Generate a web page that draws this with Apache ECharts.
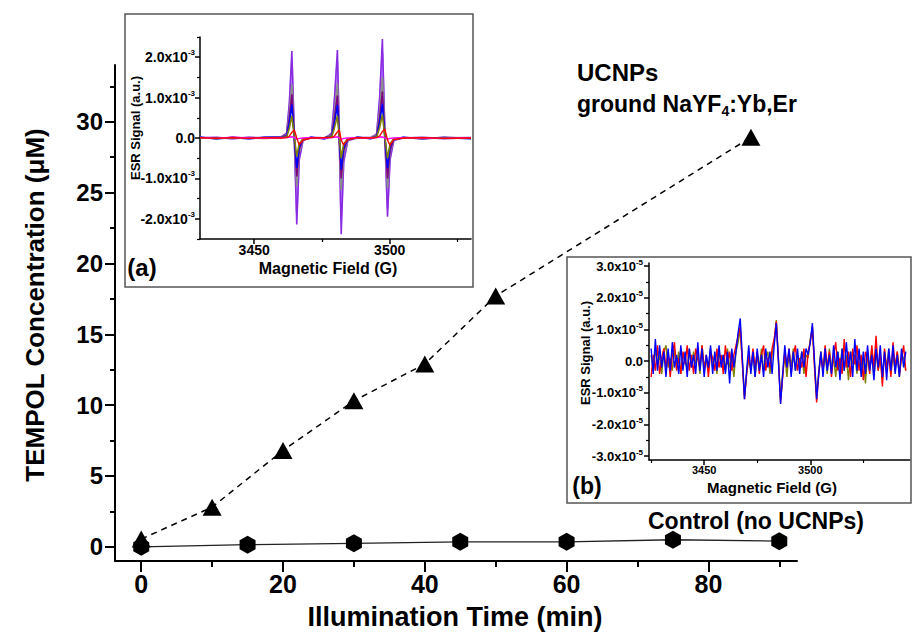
<!DOCTYPE html>
<html><head><meta charset="utf-8">
<script src="https://cdn.jsdelivr.net/npm/echarts@6/dist/echarts.min.js"></script>
<style>html,body{margin:0;padding:0;background:#fff}#c{width:912px;height:638px}</style>
</head><body><div id="c"></div>
<script>
// ---------- Main chart data ----------
const timeUCNP = [0, 10, 20, 30, 40, 50, 86];
const concUCNP = [0.55, 2.8, 6.8, 10.3, 12.9, 17.7, 28.9];
const timeControl = [0, 15, 30, 45, 60, 75, 90];
const concControl = [0.0, 0.15, 0.25, 0.35, 0.35, 0.5, 0.4];
const xTicksMain = [0, 20, 40, 60, 80];
const xMinorMain = [10, 30, 50, 70, 90];
const yTicksMain = [0, 5, 10, 15, 20, 25, 30];
const yMinorMain = [2.5, 7.5, 12.5, 17.5, 22.5, 27.5, 32.5];

// ---------- Inset (a): ESR spectra of UCNP samples (signal in 1e-3 a.u.) ----------
const fieldsA = [3430, 3436, 3442, 3448, 3454, 3460, 3462.0, 3463.0, 3463.9, 3464.8, 3465.7, 3466.6, 3468, 3471, 3476, 3478.6, 3479.6, 3480.7, 3481.4, 3482.1, 3483, 3484.5, 3488, 3493, 3495.2, 3496.3, 3497.3, 3498.2, 3499.2, 3500.1, 3501.5, 3505, 3512, 3520, 3530];
const sigLightViolet = [0.01,0.01,-0.02,0.02,0,0.02, 0.1,0.8,1.85,0.04,-1.85,-0.5,-0.05, 0.02,0, 0.1,0.85,1.9,0.04,-2.0,-0.55,-0.06, 0,0.02, 0.09,0.9,2.1,0.1,-1.75,-0.5,-0.05, 0,0.01,-0.01,0.01];
const sigViolet = [0.02,-0.02,0.02,-0.01,0.02,0.03, 0.12,0.9,2.15,0.05,-2.14,-0.55,-0.06, 0.01,-0.02, 0.12,0.95,2.18,0.05,-2.38,-0.6,-0.07, 0.02,-0.01, 0.1,1.0,2.45,0.15,-1.95,-0.55,-0.06, 0.01,-0.02,0.02,-0.01];
const sigGray = [0.01,-0.01,0.01,-0.01,0.01,0.02, 0.08,0.6,1.33,0.03,-1.2,-0.35,-0.04, 0,0.01, 0.07,0.6,1.35,0.03,-1.3,-0.38,-0.05, 0.01,0, 0.07,0.65,1.5,0.08,-1.25,-0.36,-0.04, 0.01,-0.01,0.01,0];
const sigPurple = [0,0.01,-0.01,0.01,0,0.02, 0.06,0.5,1.08,0.02,-0.95,-0.28,-0.03, 0,0.01, 0.05,0.48,1.05,0.02,-1.0,-0.3,-0.04, 0.01,0, 0.05,0.5,1.15,0.05,-1.0,-0.3,-0.03, 0,0.01,-0.01,0];
const sigBlue = [0.02,-0.02,0.01,-0.02,0.02,0.01, 0.05,0.38,0.83,0.02,-0.74,-0.22,-0.03, 0.02,-0.02, 0.04,0.37,0.82,0.02,-0.78,-0.23,-0.03, 0.02,-0.02, 0.04,0.38,0.85,0.04,-0.75,-0.22,-0.03, 0.02,-0.02,0.01,-0.02];
const sigOlive = [0,-0.01,0.01,0,-0.01,0.01, 0.03,0.25,0.55,0.02,-0.46,-0.14,-0.02, 0,0, 0.03,0.25,0.55,0.02,-0.5,-0.15,-0.02, 0,0, 0.03,0.26,0.58,0.03,-0.5,-0.15,-0.02, 0,-0.01,0,0];
const sigMagenta = [0.01,-0.01,0.02,0,-0.01,0.01, 0.01,0.02,0.03,0.01,-0.03,-0.01,0, 0.01,0, 0.01,0.02,0.03,0,-0.03,-0.01,0, 0.01,-0.01, 0.01,0.02,0.03,0,-0.03,-0.01,0, 0.01,0,-0.01,0.01];
const sigRed = [0.01,-0.01,0.01,-0.01,0.01,0, 0.01,0.05,0.14,0.2,0.0,-0.17,-0.05, 0,0.01, 0.01,0.05,0.15,0.2,-0.05,-0.17,-0.04, 0.01,0, 0.01,0.05,0.16,0.22,-0.05,-0.18,-0.04, 0,0.01,-0.01,0];
const xTicksA = [3450, 3500];
const xMinorA = [3475, 3525];
const yTicksA = [-2, -1, 0, 1, 2];
const yMinorA = [-2.5, -1.5, -0.5, 0.5, 1.5, 2.5];

// ---------- Inset (b): ESR spectra of controls (signal in 1e-5 a.u.) ----------
const fieldsB = [3425,3426,3427,3428,3429,3430,3431,3432,3433,3434, 3435,3436,3437,3438,3439,3440,3441,3442,3443,3444, 3445,3446,3447,3448,3449,3450,3451,3452,3453,3454, 3455,3456,3457,3458,3459,3460,3461,3462,3463,3464, 3465,3466,3467,3468,3469,3470,3471,3472,3473,3474, 3475,3476,3477,3478,3479,3480,3481,3482,3483,3484, 3485,3486,3487,3488,3489,3490,3491,3492,3493,3494, 3495,3496,3497,3498,3499,3500,3501,3502,3503,3504, 3505,3506,3507,3508,3509,3510,3511,3512,3513,3514, 3515,3516,3517,3518,3519,3520,3521,3522,3523,3524, 3525,3526,3527,3528,3529,3530,3531,3532,3533,3534, 3535,3536,3537,3538,3539,3540,3541,3542,3543,3544, 3545];
const ctrlRed = [-0.5,0.2,-0.3,0.5,-0.4,0.1,0.4,-0.2,0.3,-0.5, 0.2,0.6,-0.3,0.1,-0.4,0.3,-0.1,0.5,-0.3,0.2, -0.4,0.4,0.1,-0.2,0.5,-0.3,0.2,-0.5,0.3,0.1, -0.3,0.4,-0.2,0.2,-0.4,0.5,-0.1,0.3,-0.3,0.2, 0.5,0.8,1.1,-0.1,-1.2,-0.4,0.2,-0.3,0.4,-0.2, 0.3,-0.4,0.2,0.5,-0.3,0.1,-0.2,0.4,0.7,1.25, 0.0,-1.3,-0.5,0.3,-0.2,0.4,-0.4,0.2,0.5,-0.3, 0.1,-0.2,0.4,-0.5,0.3,0.6,1.1,-0.2,-1.3,-0.4, 0.2,-0.3,0.5,-0.2,0.3,-0.5,0.2,0.6,-0.3,0.1, -0.4,0.7,-0.2,0.3,-0.5,0.4,-0.1,0.5,-0.3,0.2, -0.6,0.3,0.1,-0.4,0.5,-0.2,0.8,-0.3,0.2,-0.8, 0.4,-0.3,0.2,-0.5,0.6,-0.2,0.3,-0.4,0.1,0.5, -0.3];
const ctrlOlive = [0.2,-0.3,0.4,-0.1,0.2,-0.4,0.3,0.5,-0.2,0.1, -0.3,0.4,-0.2,0.3,-0.4,0.2,0.1,-0.3,0.4,-0.2, 0.3,-0.1,0.2,-0.4,0.5,-0.2,0.1,-0.3,0.4,-0.2, 0.2,-0.4,0.3,-0.1,0.2,-0.3,0.4,-0.2,0.1,-0.5, 0.3,0.6,1.0,0.0,-1.1,-0.4,0.1,-0.3,0.3,-0.5, 0.2,-0.2,0.4,-0.3,0.1,0.3,-0.4,0.2,0.6,1.3, 0.1,-1.2,-0.4,0.2,-0.5,0.3,-0.2,0.4,-0.3,0.2, -0.1,0.3,-0.4,0.2,0.1,0.7,1.0,-0.1,-1.1,-0.3, 0.3,-0.3,0.2,-0.4,0.4,-0.2,0.1,-0.5,0.3,-0.2, 0.4,-0.3,0.2,-0.6,0.3,-0.1,0.2,-0.4,0.3,-0.2, 0.1,-0.7,0.2,-0.2,0.4,-0.5,0.3,-0.3,0.1,-0.6, 0.3,-0.2,0.4,-0.4,0.2,-0.3,0.3,-0.5,0.2,0.1, -0.3];
const ctrlBlue = [0.4,-0.4,0.7,-0.3,0.5,-0.2,0.3,-0.5,0.4,-0.3, 0.6,-0.2,0.2,-0.4,0.5,-0.3,0.3,-0.5,0.4,-0.2, 0.2,-0.4,0.6,-0.3,0.4,-0.5,0.2,-0.2,0.5,-0.4, 0.3,-0.3,0.5,-0.2,0.2,-0.4,0.3,-0.7,0.4,-0.2, 0.3,0.9,1.35,0.1,-1.2,-0.3,0.5,-0.4,0.3,-0.5, 0.4,-0.3,0.2,-0.5,0.4,-0.2,0.3,-0.4,0.5,1.2, 0.0,-1.35,-0.4,0.5,-0.2,0.4,-0.5,0.3,-0.3,0.4, -0.4,0.3,-0.2,0.4,0.2,0.6,1.2,0.0,-1.2,-0.4, 0.3,-0.5,0.4,-0.3,0.2,-0.4,0.5,-0.2,0.3,-0.6, 0.4,-0.3,0.6,-0.2,0.3,-0.5,0.7,-0.3,0.4,-0.5, 0.3,-0.4,0.5,-0.3,0.2,-0.6,0.4,-0.2,0.5,-0.5, 0.3,-0.6,0.4,-0.3,0.5,-0.4,0.2,-0.5,0.4,-0.2, 0.3];
const xTicksB = [3450, 3500];
const xMinorB = [3425, 3475, 3525];
const yTicksB = [-3, -2, -1, 0, 1, 2, 3];
const yMinorB = [-2.5, -1.5, -0.5, 0.5, 1.5, 2.5];

// ---------- Build ----------
const FONT = '"Liberation Sans", Arial, Helvetica, sans-serif';
const zip = (xs, ys) => xs.map((x, i) => [x, ys[i]]);
const hexagon = 'path://M8,0 L16,4.5 L16,13.5 L8,18 L0,13.5 L0,4.5 Z';
const plain = v => String(v);

function majorAxis(type, grid, min, max, ticks, tickLen, lineW, labelSize, margin, formatter, rich) {
  return {
    type: 'value', gridIndex: grid, min: min, max: max,
    position: type === 'x' ? 'bottom' : 'left',
    axisLine: { show: true, onZero: false, lineStyle: { color: '#000', width: lineW } },
    axisTick: { show: true, inside: false, length: tickLen, customValues: ticks, lineStyle: { color: '#000', width: lineW } },
    axisLabel: Object.assign({ show: true, customValues: ticks, margin: margin, color: '#000', fontFamily: FONT, fontWeight: 'bold', fontSize: labelSize, formatter: plain },
      formatter ? { formatter: formatter, rich: rich } : {}),
    splitLine: { show: false }
  };
}
function minorAxis(type, grid, min, max, ticks, tickLen, lineW) {
  return {
    type: 'value', gridIndex: grid, min: min, max: max,
    position: type === 'x' ? 'bottom' : 'left',
    axisLine: { show: false, onZero: false },
    axisTick: { show: true, inside: false, length: tickLen, customValues: ticks, lineStyle: { color: '#000', width: lineW } },
    axisLabel: { show: false },
    splitLine: { show: false }
  };
}
function expFormatter(exp) {
  return function (v) {
    if (Math.abs(v) < 1e-9) return '{b|0.0}';
    return '{b|' + v.toFixed(1) + 'x10}{s|-' + exp + '}';
  };
}
function richFor(size) {
  return {
    b: { fontFamily: FONT, fontWeight: 'bold', fontSize: size, color: '#000', lineHeight: size + 3 },
    s: { fontFamily: FONT, fontWeight: 'bold', fontSize: Math.round(size * 0.6), color: '#000', lineHeight: 7, verticalAlign: 'top' }
  };
}

const xAxes = [
  majorAxis('x', 0, -3.7, 92.5, xTicksMain, 11, 2, 25, 10),
  minorAxis('x', 0, -3.7, 92.5, xMinorMain, 6, 2),
  majorAxis('x', 1, 3430, 3530, xTicksA, 5, 1.5, 14, 4),
  minorAxis('x', 1, 3430, 3530, xMinorA, 3, 1.2),
  majorAxis('x', 2, 3424, 3547, xTicksB, 5, 1.5, 11, 4),
  minorAxis('x', 2, 3424, 3547, xMinorB, 3, 1.2)
];
const yAxes = [
  majorAxis('y', 0, -1, 34, yTicksMain, 10, 2, 24, 12),
  minorAxis('y', 0, -1, 34, yMinorMain, 5, 2),
  majorAxis('y', 1, -2.5, 2.5, yTicksA, 5, 1.5, 14, 5, expFormatter(3), richFor(14)),
  minorAxis('y', 1, -2.5, 2.5, yMinorA, 3, 1.2),
  majorAxis('y', 2, -3.12, 3.1, yTicksB, 5, 1.5, 13, 6, expFormatter(5), richFor(13)),
  minorAxis('y', 2, -3.12, 3.1, yMinorB, 3, 1.2)
];

function specSeries(name, xAxisIndex, yAxisIndex, fields, vals, color, w) {
  return {
    name: name, type: 'line', xAxisIndex: xAxisIndex, yAxisIndex: yAxisIndex,
    data: zip(fields, vals), showSymbol: false, symbol: 'none', silent: true,
    lineStyle: { color: color, width: w }, z: 3
  };
}

const series = [
  {
    name: 'UCNPs ground NaYF4:Yb,Er', type: 'line', xAxisIndex: 0, yAxisIndex: 0,
    data: zip(timeUCNP, concUCNP), symbol: 'triangle', symbolSize: [19, 17],
    itemStyle: { color: '#000' }, lineStyle: { color: '#000', width: 1.5, type: [6, 5] }, z: 4
  },
  {
    name: 'Control (no UCNPs)', type: 'line', xAxisIndex: 0, yAxisIndex: 0,
    data: zip(timeControl, concControl), symbol: hexagon, symbolSize: [16, 18],
    itemStyle: { color: '#000' }, lineStyle: { color: '#222', width: 1.3 }, z: 4
  },
  specSeries('a-lightviolet', 2, 2, fieldsA, sigLightViolet, '#b98cff', 2),
  specSeries('a-violet', 2, 2, fieldsA, sigViolet, '#8a2be2', 1.6),
  specSeries('a-gray', 2, 2, fieldsA, sigGray, '#8c8c8c', 1.8),
  specSeries('a-purple', 2, 2, fieldsA, sigPurple, '#800080', 1.6),
  specSeries('a-blue', 2, 2, fieldsA, sigBlue, '#0000ff', 1.6),
  specSeries('a-olive', 2, 2, fieldsA, sigOlive, '#808000', 1.6),
  specSeries('a-magenta', 2, 2, fieldsA, sigMagenta, '#ff00ff', 1.4),
  specSeries('a-red', 2, 2, fieldsA, sigRed, '#ff0000', 1.4),
  specSeries('b-olive', 4, 4, fieldsB, ctrlOlive, '#808000', 1.4),
  specSeries('b-red', 4, 4, fieldsB, ctrlRed, '#ff0000', 1.4),
  specSeries('b-blue', 4, 4, fieldsB, ctrlBlue, '#0000ff', 1.4)
];

function txt(text, x, y, size, opts) {
  opts = opts || {};
  return {
    type: 'text', x: x, y: y, rotation: opts.rot || 0, silent: true, z: 10,
    style: {
      text: text, fill: '#000', fontFamily: FONT, fontWeight: 'bold', fontSize: size,
      align: opts.align || 'center', textAlign: opts.align || 'center',
      verticalAlign: 'middle', textVerticalAlign: 'middle',
      rich: opts.rich
    }
  };
}

const graphics = [
  { type: 'rect', shape: { x: 125, y: 14, width: 348, height: 273 }, style: { fill: 'none', stroke: '#555', lineWidth: 1.5 }, silent: true, z: 1 },
  { type: 'rect', shape: { x: 567, y: 257, width: 344, height: 246 }, style: { fill: 'none', stroke: '#555', lineWidth: 1.5 }, silent: true, z: 1 },
  txt('TEMPOL Concentration (\u03bcM)', 35, 305, 26, { rot: Math.PI / 2 }),
  txt('Illumination Time (min)', 455, 617, 27),
  txt('UCNPs', 577, 72, 24, { align: 'left' }),
  txt('{m|ground NaYF}{sub|4}{m|:Yb,Er}', 577, 104, 23, { align: 'left', rich: {
    m: { fontFamily: FONT, fontWeight: 'bold', fontSize: 23, color: '#000', lineHeight: 28 },
    sub: { fontFamily: FONT, fontWeight: 'bold', fontSize: 14, color: '#000', lineHeight: 12, verticalAlign: 'bottom' }
  } }),
  txt('Control (no UCNPs)', 648, 521, 23, { align: 'left' }),
  txt('(a)', 142, 267, 24),
  txt('(b)', 587, 486, 23),
  txt('ESR Signal (a.u.)', 135, 128, 13, { rot: Math.PI / 2 }),
  txt('Magnetic Field (G)', 328, 268, 16),
  txt('ESR Signal (a.u.)', 585, 353, 13, { rot: Math.PI / 2 }),
  txt('Magnetic Field (G)', 772, 487, 15)
];

const chart = echarts.init(document.getElementById('c'), null, { renderer: 'svg' });
chart.setOption({
  animation: false,
  backgroundColor: '#fff',
  grid: [
    { left: 115, top: 65, right: 115, bottom: 77, outerBoundsMode: 'none' },
    { left: 200, top: 37, width: 271, height: 202, outerBoundsMode: 'none' },
    { left: 649, top: 263, width: 261, height: 197, outerBoundsMode: 'none' }
  ],
  xAxis: xAxes,
  yAxis: yAxes,
  series: series,
  graphic: graphics
});
</script>
</body></html>
